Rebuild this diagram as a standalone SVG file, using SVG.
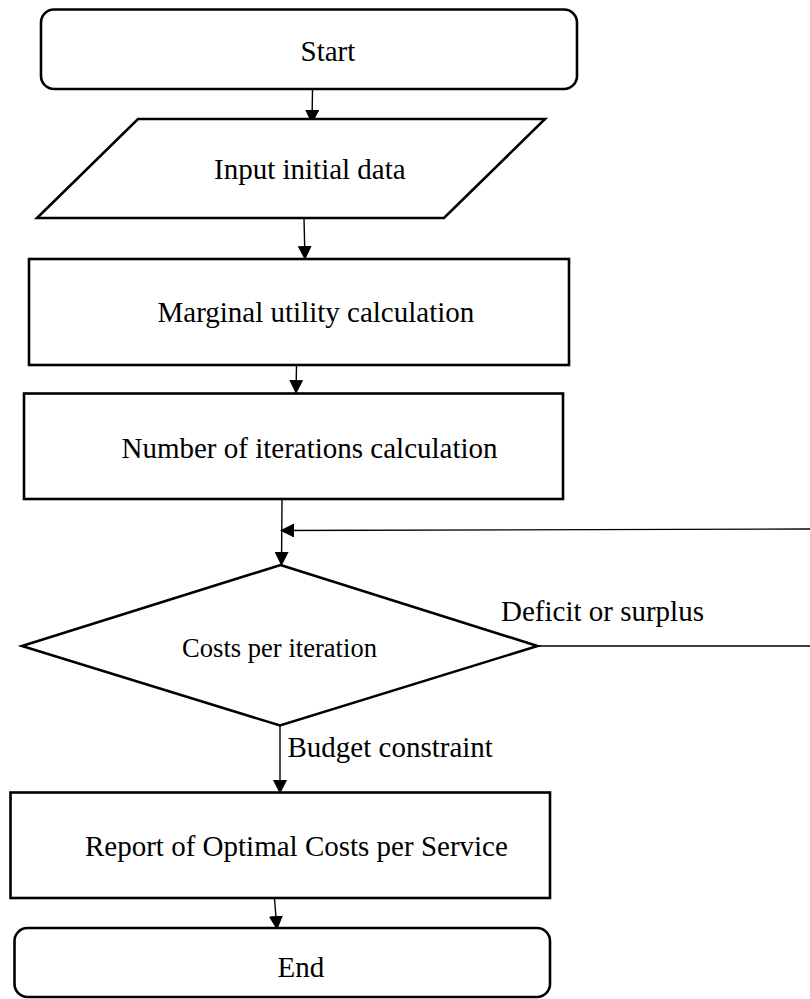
<svg xmlns="http://www.w3.org/2000/svg" width="810" height="999" viewBox="0 0 810 999">
<style>
.shape{fill:#fff;stroke:#000;stroke-width:2.6}
.lbl{font-family:"Liberation Serif","Times New Roman",serif;font-size:29px;fill:#000}
.conn{stroke:#000;stroke-width:1.4;fill:none}
</style>
<defs>
<marker id="ah" viewBox="0 0 14 14" refX="13" refY="7" markerWidth="14" markerHeight="14" markerUnits="userSpaceOnUse" orient="auto">
<path d="M0,0 L14,7 L0,14 Z" fill="#000"/>
</marker>
</defs>
<rect width="810" height="999" fill="#fff"/>
<g id="connectors">
<line class="conn" x1="312.5" y1="90" x2="312" y2="123" marker-end="url(#ah)"/>
<line class="conn" x1="304" y1="219" x2="305" y2="259" marker-end="url(#ah)"/>
<line class="conn" x1="296.5" y1="366" x2="296" y2="393" marker-end="url(#ah)"/>
<line class="conn" x1="282" y1="500" x2="281.5" y2="565" marker-end="url(#ah)"/>
<line class="conn" x1="810" y1="529" x2="281" y2="530.5" marker-end="url(#ah)"/>
<line class="conn" x1="538" y1="646" x2="810" y2="646"/>
<line class="conn" x1="280" y1="726" x2="280" y2="793" marker-end="url(#ah)"/>
<line class="conn" x1="274.5" y1="899" x2="277" y2="929" marker-end="url(#ah)"/>
<text class="lbl" x="501" y="621">Deficit or surplus</text>
<text class="lbl" x="287.5" y="757">Budget constraint</text>
</g>
<g id="start">
<rect class="shape" x="41" y="9.5" width="536" height="79.5" rx="13"/>
<text class="lbl" x="300.5" y="61">Start</text>
</g>
<g id="input">
<polygon class="shape" points="138,119 545,119 444,218 37,218"/>
<text class="lbl" x="214" y="179">Input initial data</text>
</g>
<g id="marginal">
<rect class="shape" x="29" y="259" width="540" height="106"/>
<text class="lbl" x="157.5" y="322">Marginal utility calculation</text>
</g>
<g id="iterations">
<rect class="shape" x="24" y="393.5" width="539" height="105.5"/>
<text class="lbl" x="121.5" y="458">Number of iterations calculation</text>
</g>
<g id="costs">
<polygon class="shape" points="280.5,565 537.5,646 280,725.5 22,646"/>
<text class="lbl" x="182" y="657" style="font-size:26.6px">Costs per iteration</text>
</g>
<g id="report">
<rect class="shape" x="10.5" y="792.5" width="539.5" height="105.5"/>
<text class="lbl" x="85" y="856">Report of Optimal Costs per Service</text>
</g>
<g id="end">
<rect class="shape" x="14.5" y="928" width="535.5" height="69" rx="13"/>
<text class="lbl" x="277.5" y="977">End</text>
</g>
</svg>
